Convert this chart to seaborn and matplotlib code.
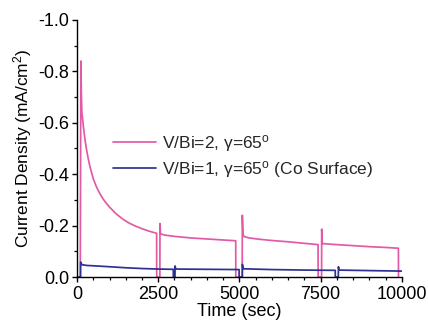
import matplotlib
matplotlib.use("Agg")
import matplotlib.pyplot as plt
from matplotlib.ticker import MultipleLocator, FormatStrFormatter
import pandas as pd
import seaborn as sns

# Chronoamperometry: current density vs. time, two deposition conditions
t_vbi2 = [0, 100, 118, 135, 150, 200, 250, 300, 350, 400, 500, 600, 700, 800,
          900, 1000, 1200, 1400, 1600, 1800, 2000, 2200, 2450, 2452, 2550,
          2553, 2570, 2700, 3000, 3500, 4000, 4500, 4885, 4887, 5085, 5088,
          5110, 5150, 5300, 5600, 6000, 6500, 7000, 7420, 7422, 7528, 7531,
          7550, 8000, 8500, 9000, 9500, 9893, 9895]
j_vbi2 = [0, 0, -0.84, -0.70, -0.64, -0.58, -0.53, -0.49, -0.457, -0.428,
          -0.382, -0.350, -0.325, -0.304, -0.287, -0.272, -0.246, -0.226,
          -0.210, -0.198, -0.188, -0.179, -0.170, 0, 0, -0.208, -0.168,
          -0.163, -0.158, -0.152, -0.148, -0.144, -0.141, 0, 0, -0.24, -0.165,
          -0.157, -0.152, -0.147, -0.142, -0.137, -0.131, -0.126, 0, 0,
          -0.186, -0.130, -0.126, -0.122, -0.118, -0.115, -0.112, 0]

t_vbi1 = [0, 108, 110, 150, 300, 600, 1000, 1500, 2000, 2500, 2963, 2965,
          3015, 3018, 3040, 4000, 4988, 4990, 5088, 5090, 5115, 6000, 7000,
          7948, 7950, 8043, 8046, 8065, 9000, 10000]
j_vbi1 = [0, 0, -0.058, -0.048, -0.045, -0.043, -0.040, -0.036, -0.033, -0.031,
          -0.030, 0, 0, -0.043, -0.031, -0.030, -0.029, 0, 0, -0.049, -0.032,
          -0.029, -0.027, -0.026, 0, 0, -0.040, -0.027, -0.025, -0.023]

labels = [r"V/Bi=2, γ=65$^{\rm o}$", r"V/Bi=1, γ=65$^{\rm o}$ (Co Surface)"]
colors = ["#E25AA6", "#2E3192"]

df = pd.concat([
    pd.DataFrame({"time": t_vbi2, "j": j_vbi2, "series": labels[0]}),
    pd.DataFrame({"time": t_vbi1, "j": j_vbi1, "series": labels[1]}),
])

sns.set_theme(style="ticks")
plt.rcParams["font.family"] = ["Liberation Sans", "DejaVu Sans"]
plt.rcParams["mathtext.fontset"] = "custom"
plt.rcParams["mathtext.rm"] = "Liberation Sans"
plt.rcParams["mathtext.it"] = "Liberation Sans:italic"

fig = plt.figure(figsize=(4.28, 3.21), dpi=100)
ax = fig.add_axes([0.180, 0.137, 0.759, 0.801])

sns.lineplot(data=df, x="time", y="j", hue="series", palette=colors,
             estimator=None, sort=False, linewidth=1.25, ax=ax)

ax.set_xlim(0, 10000)
ax.set_ylim(0, -1.0)
ax.xaxis.set_major_locator(MultipleLocator(2500))
ax.xaxis.set_minor_locator(MultipleLocator(500))
ax.yaxis.set_major_locator(MultipleLocator(0.2))
ax.yaxis.set_minor_locator(MultipleLocator(0.1))
ax.yaxis.set_major_formatter(FormatStrFormatter("%.1f"))

for side in ("top", "right"):
    ax.spines[side].set_visible(False)
for side in ("left", "bottom"):
    ax.spines[side].set_linewidth(1.0)
    ax.spines[side].set_color("black")

ax.tick_params(which="major", direction="out", length=3.6, width=1.0,
               labelsize=13, colors="black", pad=2)
ax.tick_params(axis="x", which="major", pad=3)
ax.tick_params(which="minor", direction="out", length=2.2, width=0.9,
               colors="black")

ax.set_xlabel("Time (sec)", fontsize=13, labelpad=0, color="black")
ax.set_ylabel("Current Density (mA/cm$^2$)", fontsize=12.5, labelpad=3,
              color="black")

ax.legend(loc="upper left", bbox_to_anchor=(0.11, 0.56), frameon=False,
          fontsize=12.5, handlelength=2.5, handletextpad=0.35,
          labelspacing=0.3, borderpad=0, borderaxespad=0)

fig.savefig("out.png", dpi=100)
